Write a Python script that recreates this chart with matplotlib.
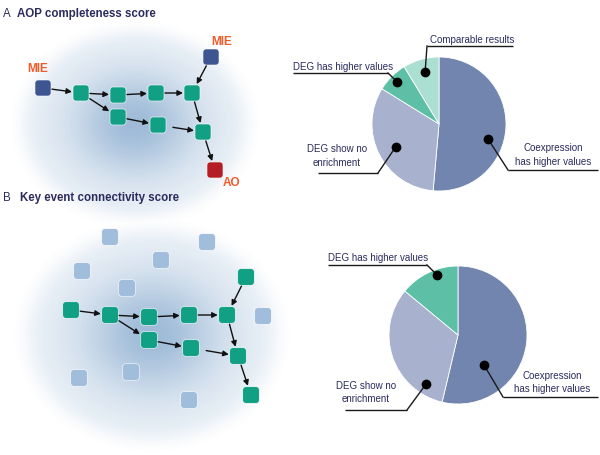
import numpy as np
import matplotlib.pyplot as plt
from matplotlib.patches import FancyBboxPatch

plt.rcParams['font.family'] = ['Liberation Sans', 'DejaVu Sans']

W, H = 600, 456

# pie data (share of comparisons, %)
pie_a_labels = ['Coexpression\nhas higher values', 'DEG show no\nenrichment',
                'DEG has higher values', 'Comparable results']
pie_a_values = [51.4, 32.4, 7.5, 8.7]
pie_a_colors = ['#7285ae', '#a8b1cd', '#5dbfa6', '#abdfd2']

pie_b_labels = ['Coexpression\nhas higher values', 'DEG show no\nenrichment',
                'DEG has higher values']
pie_b_values = [53.7, 32.3, 14.0]
pie_b_colors = ['#7285ae', '#a8b1cd', '#5dbfa6']

# network diagrams, pixel positions measured from the top-left corner
aop_nodes = {'mie1': (43, 89), 'k1': (81, 94), 'k2': (118, 96), 'k3': (156, 94),
             'k4': (192, 94), 'k5': (118, 118), 'k6': (158, 126), 'k7': (203, 133),
             'mie2': (211, 58), 'ao': (215, 171)}
aop_edges = [('mie1', 'k1'), ('k1', 'k2'), ('k2', 'k3'), ('k3', 'k4'), ('mie2', 'k4'),
             ('k1', 'k5'), ('k5', 'k6'), ('k6', 'k7'), ('k4', 'k7'), ('k7', 'ao')]

ke_nodes = {'b1': (71, 311), 'b2': (110, 316), 'b3': (149, 318), 'b4': (189, 316),
            'b5': (227, 316), 'b6': (246, 278), 'b7': (149, 341), 'b8': (191, 349),
            'b9': (238, 357), 'b10': (251, 396)}
ke_edges = [('b1', 'b2'), ('b2', 'b3'), ('b3', 'b4'), ('b4', 'b5'), ('b6', 'b5'),
            ('b2', 'b7'), ('b7', 'b8'), ('b8', 'b9'), ('b5', 'b9'), ('b9', 'b10')]
ke_unlinked = [(110, 238), (207, 243), (161, 261), (82, 272), (127, 289),
               (263, 317), (79, 379), (131, 373), (189, 401)]

navy = '#2b2b5e'
orange = '#f15a29'
green = '#12a084'

fig = plt.figure(figsize=(6, 4.56), dpi=100)
ax = fig.add_axes([0, 0, 1, 1])
ax.set_xlim(0, W)
ax.set_ylim(0, H)
ax.axis('off')


def fy(y):
    return H - y


# soft blue background blobs: faint disc with a darker core
xx, yy = np.meshgrid(np.arange(W) + 0.5, np.arange(H) + 0.5)
alpha = np.zeros((H, W))
for cx, cy, rx, ry in [(135, 125, 128, 106), (152, 336, 142, 120)]:
    d = np.sqrt(((xx - cx) / rx) ** 2 + ((yy - cy) / ry) ** 2)
    rim = np.clip((1 - d) / 0.25, 0, 1)
    rim = rim * rim * (3 - 2 * rim)
    a = 0.10 * rim + 0.42 * np.exp(-(d / 0.5) ** 2) * rim
    alpha = np.maximum(alpha, a)
img = np.zeros((H, W, 4))
img[..., 0] = 70 / 255
img[..., 1] = 124 / 255
img[..., 2] = 180 / 255
img[..., 3] = alpha
ax.imshow(img, extent=[0, W, 0, H], origin='upper', zorder=0, interpolation='bilinear')
ax.set_xlim(0, W)
ax.set_ylim(0, H)


def square(p, color, s=16):
    x, y = p
    ax.add_patch(FancyBboxPatch((x - s / 2, fy(y) - s / 2), s, s,
                                boxstyle='round,pad=0,rounding_size=3',
                                fc=color, ec='white', lw=0.4, zorder=2))


def arrow(p, q, half=8, gap_a=1, gap_b=1):
    x0, y0 = p[0], fy(p[1])
    x1, y1 = q[0], fy(q[1])
    dx, dy = x1 - x0, y1 - y0
    L = np.hypot(dx, dy)
    m = max(abs(dx), abs(dy))
    ux, uy = dx / L, dy / L
    da = half * L / m + gap_a
    db = half * L / m + gap_b
    ax.annotate('', xy=(x1 - ux * db, y1 - uy * db), xytext=(x0 + ux * da, y0 + uy * da),
                arrowprops=dict(arrowstyle='-|>', color='#111111', lw=1.0,
                                mutation_scale=8, shrinkA=0, shrinkB=0), zorder=3)


# panel A network
for k, p in aop_nodes.items():
    c = '#3d5590' if k.startswith('mie') else ('#b31f24' if k == 'ao' else green)
    square(p, c)
for a, b in aop_edges:
    arrow(aop_nodes[a], aop_nodes[b], gap_a=7 if a == 'k6' else 1)

ax.text(38, fy(68.5), 'MIE', color=orange, fontsize=8.5, fontweight='bold', ha='center', va='center')
ax.text(222, fy(41.5), 'MIE', color=orange, fontsize=8.5, fontweight='bold', ha='center', va='center')
ax.text(232, fy(183), 'AO', color=orange, fontsize=8.5, fontweight='bold', ha='center', va='center')

# panel B network
for p in ke_unlinked:
    square(p, '#a0bddb', s=16.5)
for k, p in ke_nodes.items():
    square(p, green, s=16.5)
for a, b in ke_edges:
    arrow(ke_nodes[a], ke_nodes[b], half=8.25, gap_a=7 if a == 'b8' else 1)

# panel titles
ax.text(3, fy(14), 'A', color=navy, fontsize=8.3, va='center')
ax.text(17, fy(14), 'AOP completeness score', color=navy, fontsize=8.3,
        fontweight='bold', va='center')
ax.text(3, fy(198), 'B', color=navy, fontsize=8.3, va='center')
ax.text(20, fy(198), 'Key event connectivity score', color=navy, fontsize=8.3,
        fontweight='bold', va='center')

# label layout: dot placement inside wedge (fraction of sweep, radius),
# text anchor, underline span and which end the leader joins
layout_a = [
    dict(frac=0.42, r=0.77, tx=553, ty=155, ha='center', u=(508, 598, 171), end='left'),
    dict(frac=0.51, r=0.73, tx=337, ty=156, ha='center', u=(318, 378, 174), end='right'),
    dict(frac=0.50, r=0.88, tx=293, ty=67, ha='left', u=(293, 388, 74), end='right'),
    dict(frac=0.48, r=0.80, tx=472, ty=39.5, ha='center', u=(427, 513, 47), end='left'),
]
layout_b = [
    dict(frac=0.28, r=0.58, tx=552, ty=382.5, ha='center', u=(503, 598, 398), end='left'),
    dict(frac=0.83, r=0.85, tx=366, ty=392.5, ha='center', u=(345, 407, 411), end='right'),
    dict(frac=0.38, r=0.92, tx=328, ty=258, ha='left', u=(328, 427, 266), end='right'),
]


def draw_pie(values, colors, labels, cx, cy, radius, layout):
    wedges, _ = ax.pie(values, colors=colors, startangle=90, counterclock=False,
                       center=(cx, fy(cy)), radius=radius,
                       wedgeprops=dict(edgecolor='white', linewidth=0.6))
    for w, lab, lo in zip(wedges, labels, layout):
        ang = np.deg2rad(w.theta1 + lo['frac'] * (w.theta2 - w.theta1))
        dx = cx + lo['r'] * radius * np.cos(ang)
        dy = fy(cy) + lo['r'] * radius * np.sin(ang)
        x0, x1, uy = lo['u']
        ex = x0 if lo['end'] == 'left' else x1
        ax.plot([x0, x1], [fy(uy), fy(uy)], color='#1a1a1a', lw=1.0, zorder=4,
                solid_capstyle='butt')
        ax.plot([dx, ex], [dy, fy(uy)], color='#1a1a1a', lw=1.0, zorder=4)
        ax.plot(dx, dy, 'o', color='black', ms=6, zorder=5)
        ax.text(lo['tx'], fy(lo['ty']), lab, color=navy, fontsize=7, ha=lo['ha'],
                va='center', multialignment='center', linespacing=1.45, zorder=5)


draw_pie(pie_a_values, pie_a_colors, pie_a_labels, 439, 125, 67, layout_a)
draw_pie(pie_b_values, pie_b_colors, pie_b_labels, 458, 336, 69, layout_b)

ax.set_xlim(0, W)
ax.set_ylim(0, H)
ax.set_aspect('auto')
fig.savefig('out.png', dpi=100)
